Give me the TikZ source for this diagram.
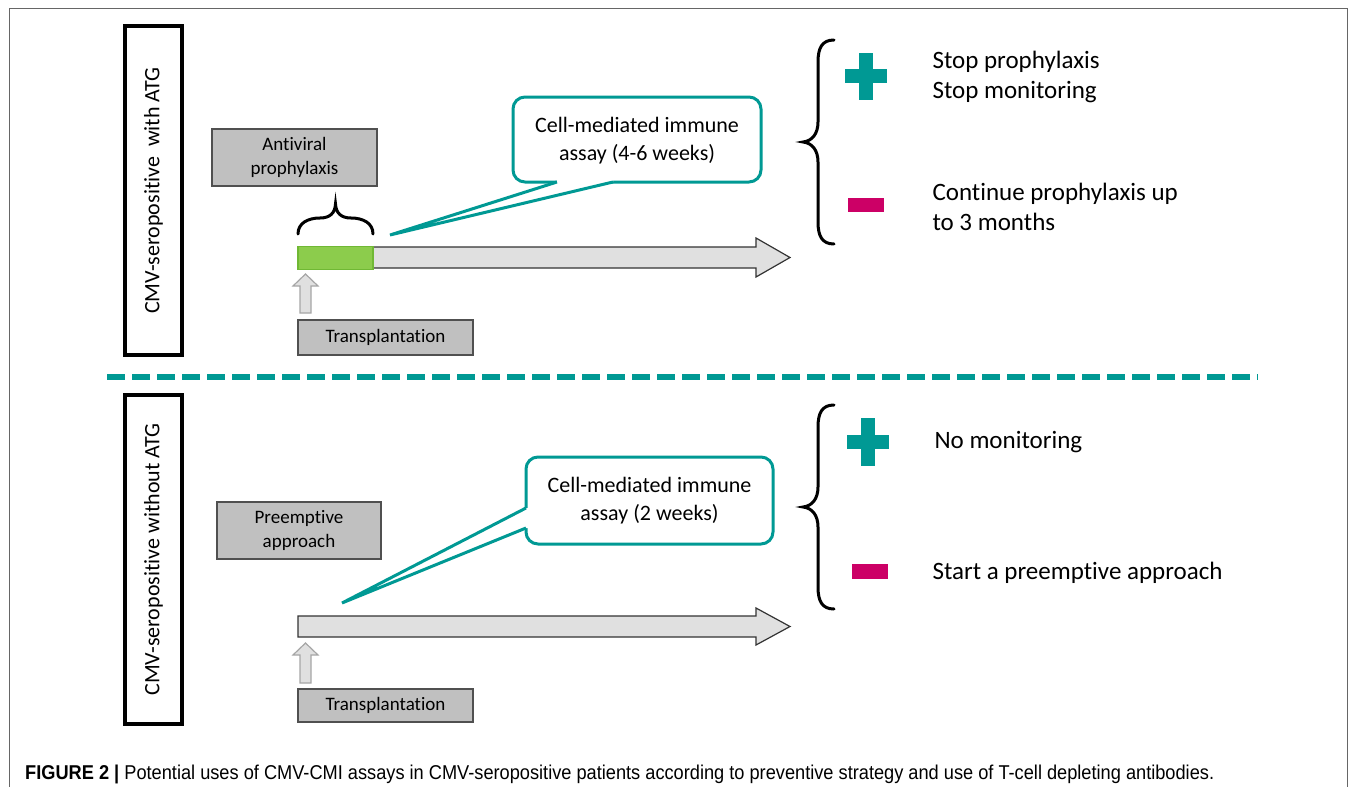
\documentclass[tikz,border=0pt]{standalone}
\usepackage{fontspec}
\setmainfont{Carlito}[Ligatures=NoCommon]
\newfontfamily\capfont{Liberation Sans}
\definecolor{teal1}{RGB}{0,153,148}
\definecolor{crim}{RGB}{204,0,102}
\definecolor{gbox}{RGB}{192,192,192}
\definecolor{gboxd}{RGB}{80,80,80}
\definecolor{barfill}{RGB}{224,224,224}
\definecolor{grn}{RGB}{140,204,76}
\definecolor{grnd}{RGB}{112,184,52}
\tikzset{
  sidebox/.style={draw=black,line width=3.5pt,minimum height=57pt,minimum width=329pt,inner sep=0pt,rotate=90,font=\fontsize{22}{26}\selectfont},
  graybox/.style={draw=gboxd,fill=gbox,line width=1.5pt,inner sep=0pt,align=center,font=\fontsize{19}{24}\selectfont},
  callout/.style={draw=teal1,line width=3pt,fill=white,rounded corners=12pt},
  calltext/.style={align=center,font=\fontsize{22}{28}\selectfont},
  restext/.style={anchor=west,align=left,font=\fontsize{25}{30}\selectfont},
  bigarrow/.style={draw=black!80,fill=barfill,line width=1.2pt},
  uparrow/.style={draw=black!35,fill=black!12,line width=1.2pt},
  bracestyle/.style={draw=black,line width=3pt,line cap=round},
  plusfill/.style={fill=teal1},
  minusfill/.style={fill=crim}
}
\begin{document}
\begin{tikzpicture}[x=1pt,y=-1pt]
\useasboundingbox (0,0) rectangle (1355,787);
% frame
\draw[black!60,line width=1pt] (9,787) -- (9,8) -- (1347,8) -- (1347,787);

% ---------- top section ----------
\node[sidebox] (s1) at (153.5,190.5) {CMV-seropositive \ with ATG};
\node[graybox,minimum width=165pt,minimum height=57pt] (av) at (294.5,157.5) {Antiviral\\prophylaxis};
% brace over green bar
\draw[bracestyle] (298,234) .. controls (298,223) and (308,218) .. (320,218) .. controls (330,218) and (335,213) .. (335.5,204) .. controls (336,213) and (341,218) .. (351,218) .. controls (363,218) and (373,223) .. (373,234);
% long arrow
\draw[bigarrow] (298,247) -- (756,247) -- (756,238) -- (790,257.5) -- (756,277) -- (756,268) -- (298,268) -- cycle;
\node[draw=grnd,fill=grn,line width=1.2pt,minimum width=75pt,minimum height=23pt,inner sep=0pt] (gb) at (335.5,258) {};
% small up arrow
\draw[uparrow] (300,313) -- (300,286) -- (293,286) -- (305.5,274) -- (318,286) -- (311,286) -- (311,313) -- cycle;
\node[graybox,minimum width=175pt,minimum height=35pt] (tp1) at (385.5,337.5) {Transplantation};
% callout top
\draw[callout] (513,97) rectangle (761,182);
\fill[white] (390,235) -- (557,182) -- (557,179) -- (613,179) -- (613,182) -- cycle;
\draw[teal1,line width=3pt] (557,182) -- (390,235) -- (613,182);
\node[calltext] (c1) at (637,141) {Cell-mediated immune\\assay (4-6 weeks)};
% big brace
\draw[bracestyle] (834,40) .. controls (822,40) and (818,48) .. (818,62) -- (818,122) .. controls (818,134) and (812,141) .. (803,142) .. controls (812,143) and (818,150) .. (818,162) -- (818,222) .. controls (818,236) and (822,244) .. (834,244);
\fill[plusfill] (859,53) rectangle (873,100);
\fill[plusfill] (845,69) rectangle (887,83);
\fill[minusfill] (848,198) rectangle (884,212);
\node[restext] (r1) at (929,77) {Stop prophylaxis\\Stop monitoring};
\node[restext] (r2) at (929,206.5) {Continue prophylaxis up\\to 3 months};

% dashed separator
\draw[teal1,line width=6.5pt,dash pattern=on 18pt off 7pt] (107,377) -- (1258,377);

% ---------- bottom section ----------
\node[sidebox] (s2) at (153.5,559.5) {CMV-seropositive without ATG};
\node[graybox,minimum width=164pt,minimum height=57pt] (pa) at (299,530.5) {Preemptive\\approach};
\draw[bigarrow] (298,616) -- (756,616) -- (756,608) -- (790,626.5) -- (756,645) -- (756,637) -- (298,637) -- cycle;
\draw[uparrow] (300,683) -- (300,655) -- (293,655) -- (305.5,643) -- (318,655) -- (311,655) -- (311,683) -- cycle;
\node[graybox,minimum width=175pt,minimum height=33pt] (tp2) at (385.5,705.5) {Transplantation};
\draw[callout] (526,457) rectangle (773,544);
\fill[white] (342,603) -- (526,508) -- (529,508) -- (529,528) -- (526,528) -- cycle;
\draw[teal1,line width=3pt] (526,508) -- (342,603) -- (526,528);
\node[calltext] (c2) at (649.5,500.5) {Cell-mediated immune\\assay (2 weeks)};
\draw[bracestyle] (834,405) .. controls (822,405) and (818,413) .. (818,427) -- (818,487) .. controls (818,499) and (812,506) .. (803,507) .. controls (812,508) and (818,515) .. (818,527) -- (818,587) .. controls (818,601) and (822,609) .. (834,609);
\fill[plusfill] (861,418) rectangle (875,466);
\fill[plusfill] (847,435) rectangle (889,449);
\fill[minusfill] (852,564) rectangle (888,579);
\node[restext] (r3) at (931,442) {No monitoring};
\node[restext] (r4) at (929,573) {Start a preemptive approach};

% caption
\node[anchor=base west,inner sep=0pt] (cap) at (25,779) {\resizebox{1189pt}{14.5pt}{\capfont\fontsize{15}{18}\selectfont\textbf{FIGURE 2 |} Potential uses of CMV-CMI assays in CMV-seropositive patients according to preventive strategy and use of T-cell depleting antibodies.}};
\end{tikzpicture}
\end{document}
